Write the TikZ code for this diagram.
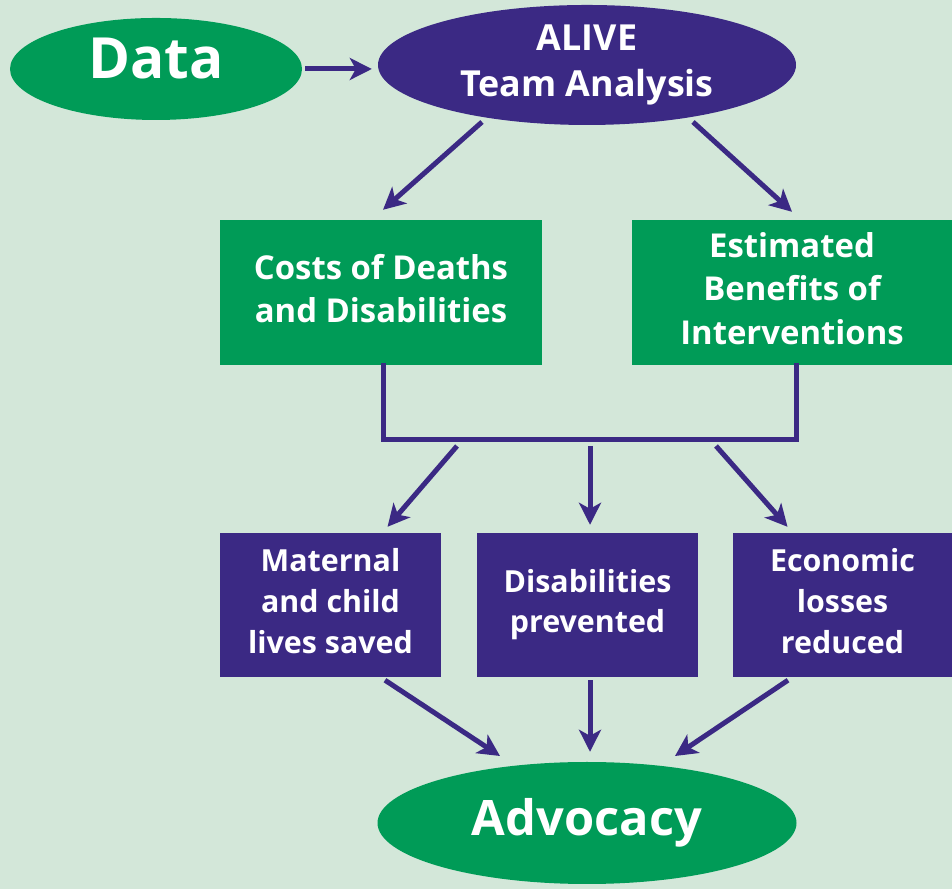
\documentclass[tikz,border=0pt]{standalone}
\usepackage{fontspec}
\setmainfont{Open Sans}
\usepackage{tikz}
\usetikzlibrary{positioning,shapes.geometric,arrows.meta}
\definecolor{bgmint}{RGB}{211,231,217}
\definecolor{alivegreen}{RGB}{0,155,87}
\definecolor{alivepurple}{RGB}{59,41,132}
\tikzset{
  greenoval/.style={ellipse,fill=alivegreen,inner sep=0pt,text=white,font=\bfseries},
  purpleoval/.style={ellipse,fill=alivepurple,inner sep=0pt,text=white,font=\bfseries},
  greenbox/.style={rectangle,fill=alivegreen,inner sep=0pt,minimum height=145bp,text=white,align=center,
    text depth=8bp,font=\fontsize{33}{44}\selectfont\bfseries},
  purplebox/.style={rectangle,fill=alivepurple,inner sep=0pt,minimum height=144bp,text=white,align=center,
    text depth=8bp,font=\fontsize{30.5}{41}\selectfont\bfseries},
  flow/.style={draw=alivepurple,line width=5bp,-{Stealth[length=22bp,width=22bp,inset=6bp]}},
  bracket/.style={draw=alivepurple,line width=5bp,line cap=rect},
}
\begin{document}
\begin{tikzpicture}[>=Stealth,line join=miter,x=1bp,y=1bp]
\fill[bgmint] (0,0) rectangle (952,889);
\useasboundingbox (0,0) rectangle (952,889);
%%
\node (data) at (156bp,820bp) [greenoval,minimum width=292bp,minimum height=102bp,text depth=22bp,font=\fontsize{57}{57}\selectfont\bfseries] {Data};
  \node (alive) at (587bp,824bp) [purpleoval,minimum width=418bp,minimum height=120bp,align=center,font=\fontsize{36}{47}\selectfont\bfseries] {ALIVE\\Team Analysis};
  \node (costs) at (381bp,596.5bp) [greenbox,minimum width=322bp] {Costs of Deaths\\and Disabilities};
  \node (benefits) at (792bp,596.5bp) [greenbox,minimum width=320bp] {Estimated\\Benefits of\\Interventions};
  \node (lives) at (330.5bp,284bp) [purplebox,minimum width=221bp] {Maternal\\and child\\lives saved};
  \node (disab) at (587.5bp,284bp) [purplebox,minimum width=221bp] {Disabilities\\prevented};
  \node (econ) at (842.5bp,284bp) [purplebox,minimum width=219bp] {Economic\\losses\\reduced};
  \node (advocacy) at (587bp,66bp) [greenoval,minimum width=419bp,minimum height=122bp,font=\fontsize{49}{49}\selectfont\bfseries] {Advocacy};
%
  \coordinate (join) at (590bp,449bp);
  \coordinate (b1) at (457bp,443bp);
  \coordinate (b2) at (590bp,443bp);
  \coordinate (b3) at (716bp,443bp);
%
  \draw [flow,shorten <=3bp,shorten >=6bp] (data.east) -- (data.east -| alive.west);
  \draw [flow] ([xshift=-105bp,yshift=-57bp]alive.center) -- ([xshift=2bp,yshift=10bp]costs.north);
  \draw [flow] ([xshift=106bp,yshift=-57bp]alive.center) -- ([yshift=8bp]benefits.north);
  \draw [bracket] ([xshift=2bp]costs.south) |- (join) -| ([xshift=4bp]benefits.south);
  \draw [flow] (b1) -- ([xshift=57bp,yshift=6bp]lives.north);
  \draw [flow] (b2) -- ([xshift=2.5bp,yshift=8bp]disab.north);
  \draw [flow] (b3) -- ([xshift=-55bp,yshift=6bp]econ.north);
  \draw [flow] ([xshift=54.5bp,yshift=-3bp]lives.south) -- ([xshift=-87bp,yshift=67bp]advocacy.center);
  \draw [flow] ([xshift=2.5bp,yshift=-3bp]disab.south) -- ([xshift=3bp,yshift=10bp]advocacy.north);
  \draw [flow] ([xshift=-54.5bp,yshift=-3bp]econ.south) -- ([xshift=88bp,yshift=67bp]advocacy.center);
%
\end{tikzpicture}
\end{document}
